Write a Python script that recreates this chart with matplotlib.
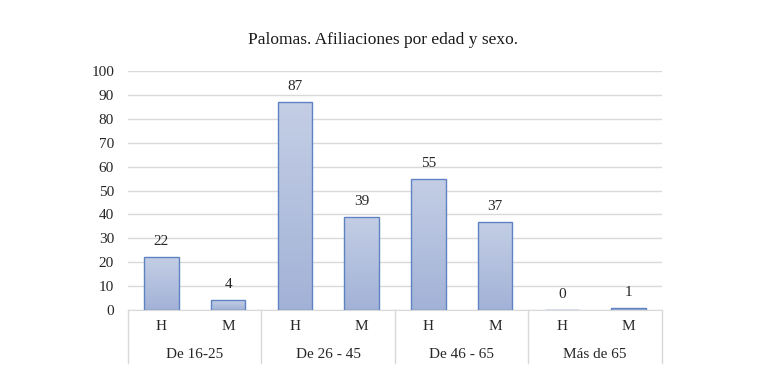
import matplotlib
matplotlib.use('Agg')
import matplotlib.pyplot as plt
from matplotlib.colors import LinearSegmentedColormap
import numpy as np

groups = ['De 16-25', 'De 26 - 45', 'De 46 - 65', 'Más de 65']
sexes = ['H', 'M']
values = [22, 4, 87, 39, 55, 37, 0, 1]

plt.rcParams['font.family'] = ['Liberation Serif', 'DejaVu Serif']

fig = plt.figure(figsize=(7.65, 3.82), dpi=100)
ax = fig.add_axes([128 / 765, 1 - 310 / 382, (662 - 128) / 765, (310 - 71) / 382])

n = len(values)
x = np.arange(n)

# gradient fill for bars (darker at the bottom)
grad = np.linspace(0, 1, 256).reshape(-1, 1)
cmap = LinearSegmentedColormap.from_list('g', ['#a2b2d7', '#c4cee5'])
bars = ax.bar(x, values, width=0.52, facecolor='none', edgecolor='#5f82c2',
              linewidth=1.0, zorder=3)
for b in bars:
    h = b.get_height()
    if h <= 0:
        continue
    im = ax.imshow(grad, cmap=cmap, aspect='auto', origin='lower',
                   extent=[b.get_x(), b.get_x() + b.get_width(), 0, h], zorder=2)
    im.set_clip_path(b)
ax.set_xlim(-0.5, n - 0.5)
ax.set_ylim(0, 100)

for xi, v in zip(x, values):
    ax.annotate(str(v), (xi, v), xytext=(0, 6.5), textcoords='offset points',
                ha='center', va='bottom', fontsize=11, color='#262626')

ax.set_yticks(np.arange(0, 101, 10))
ax.tick_params(axis='y', length=0, labelsize=11, colors='#262626', pad=10)
ax.yaxis.grid(True, color='#d9d9d9', linewidth=1)
ax.set_axisbelow(True)
for s in ['top', 'right', 'left']:
    ax.spines[s].set_visible(False)
ax.spines['bottom'].set_color('#d9d9d9')
ax.set_xticks([])

# category table below the axis
for xi in x:
    ax.text(xi, -7, sexes[xi % 2], ha='center', va='center', fontsize=11,
            color='#262626', clip_on=False)
for gi, g in enumerate(groups):
    ax.text(2 * gi + 0.5, -18.5, g, ha='center', va='center', fontsize=11,
            color='#262626', clip_on=False)
for bi in range(len(groups) + 1):
    ax.plot([2 * bi - 0.5, 2 * bi - 0.5], [0, -22], color='#d9d9d9',
            linewidth=1, clip_on=False)

fig.text(0.5, 1 - 40 / 382, 'Palomas. Afiliaciones por edad y sexo.',
         ha='center', va='center', fontsize=12.5, color='#1a1a1a')

fig.savefig('out.png', dpi=100)
